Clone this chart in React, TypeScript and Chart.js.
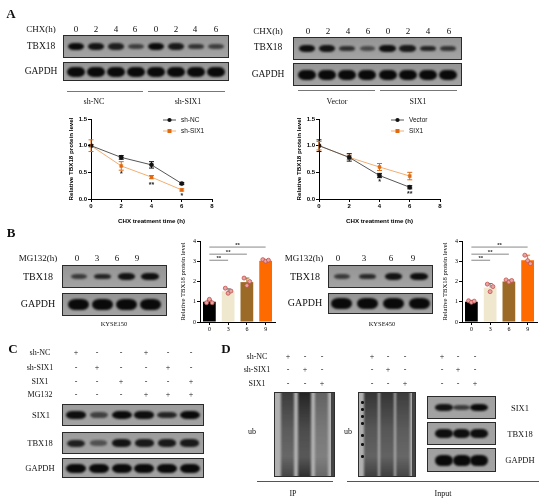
import React, { useEffect, useRef } from "react";
import { Chart, registerables } from "chart.js";
Chart.register(...registerables);

const SANS = '"Liberation Sans", Arial, sans-serif';
const SERIF = '"Liberation Serif", "Times New Roman", serif';

// ---------- data: line charts (panel A) ----------
const chxTimes = [0, 2, 4, 6];
const shNC = [1.0, 0.78, 0.64, 0.29];
const shNCErr = [0.02, 0.035, 0.06, 0.02];
const shSIX1 = [1.0, 0.62, 0.41, 0.17];
const shSIX1Err = [0.11, 0.08, 0.03, 0.02];
const vectorVals = [1.0, 0.78, 0.44, 0.22];
const vectorErr = [0.11, 0.07, 0.04, 0.03];
const six1Vals = [1.0, 0.78, 0.6, 0.43];
const six1Err = [0.08, 0.04, 0.065, 0.07];
const starsLeft: [number, number, string][] = [[2, 0.47, "*"], [4, 0.27, "**"], [6, 0.05, "*"]];
const starsRight: [number, number, string][] = [[4, 0.31, "*"], [6, 0.09, "**"]];

// ---------- data: bar charts (panel B) ----------
const mgHours = ["0", "3", "6", "9"];
const kyse150Mean = [1.0, 1.52, 1.97, 3.02];
const kyse150Err = [0.08, 0.12, 0.2, 0.05];
const kyse150Dots = [[0.95, 1.12, 0.95], [1.67, 1.42, 1.53], [2.17, 1.8, 2.0], [3.08, 3.0, 3.05]];
const kyse450Mean = [1.0, 1.7, 2.0, 3.05];
const kyse450Err = [0.05, 0.2, 0.07, 0.25];
const kyse450Dots = [[1.05, 0.97, 1.03], [1.87, 1.5, 1.75], [2.08, 1.97, 2.05], [3.3, 3.03, 2.88]];
const sigPairs: [number, number, number][] = [[0, 1, 3.05], [0, 2, 3.35], [0, 3, 3.7]];
const barColors = ["#000000", "#EFE8CE", "#9C6A27", "#FF6A00"];

// ---------- data: blots ----------
const chxLanes = ["0", "2", "4", "6", "0", "2", "4", "6"];
const aLeftTBX18 = [0.95, 0.85, 0.75, 0.45, 0.95, 0.8, 0.55, 0.45];
const aRightTBX18 = [0.9, 0.85, 0.6, 0.35, 0.9, 0.8, 0.7, 0.55];
const gapdh8 = [1, 1, 1, 1, 1, 1, 1, 1];
const bLeftTBX18 = [0.5, 0.7, 0.85, 0.9];
const bRightTBX18 = [0.5, 0.65, 0.85, 0.9];
const gapdh4 = [1, 1, 1, 1];
const cRows = ["sh-NC", "sh-SIX1", "SIX1", "MG132"];
const cSigns = [
  ["+", "-", "-", "+", "-", "-"],
  ["-", "+", "-", "-", "+", "-"],
  ["-", "-", "+", "-", "-", "+"],
  ["-", "-", "-", "+", "+", "+"],
];
const cSIX1 = [0.9, 0.45, 0.95, 0.9, 0.7, 1];
const cTBX18 = [0.75, 0.3, 0.85, 0.8, 0.8, 0.8];
const gapdh6 = [1, 1, 1, 1, 1, 1];
const dRows = ["sh-NC", "sh-SIX1", "SIX1"];
const dSigns = [["+", "-", "-"], ["-", "+", "-"], ["-", "-", "+"]];
const dIpUb = [0.75, 0.9, 0.5];
const dInputUb = [0.8, 0.8, 0.75];
const dSIX1 = [0.85, 0.5, 1];
const dTBX18 = [0.9, 0.9, 0.9];
const gapdh3 = [1, 1, 1];

// ---------- chart helpers ----------
type Series = { label: string; vals: number[]; err: number[]; color: string; line: string; style: string };

function lineConfig(series: Series[], stars: [number, number, string][]) {
  const errPlugin = {
    id: "errBars",
    beforeDatasetsDraw(chart: any) {
      const { ctx } = chart;
      const xs = chart.scales.x, ys = chart.scales.y;
      ctx.save();
      ctx.lineWidth = 1;
      series.forEach((s) => {
        ctx.strokeStyle = s.color;
        chxTimes.forEach((t, i) => {
          const px = xs.getPixelForValue(t);
          const top = ys.getPixelForValue(s.vals[i] + s.err[i]);
          const bot = ys.getPixelForValue(s.vals[i] - s.err[i]);
          ctx.beginPath();
          ctx.moveTo(px, top); ctx.lineTo(px, bot);
          ctx.moveTo(px - 2.5, top); ctx.lineTo(px + 2.5, top);
          ctx.moveTo(px - 2.5, bot); ctx.lineTo(px + 2.5, bot);
          ctx.stroke();
        });
      });
      ctx.restore();
    },
  };
  const starPlugin = {
    id: "stars",
    afterDatasetsDraw(chart: any) {
      const { ctx } = chart;
      const xs = chart.scales.x, ys = chart.scales.y;
      ctx.save();
      ctx.fillStyle = "#222";
      ctx.font = `bold 7px ${SANS}`;
      ctx.textAlign = "center";
      ctx.textBaseline = "middle";
      stars.forEach(([x, y, t]) => ctx.fillText(t, xs.getPixelForValue(x), ys.getPixelForValue(y)));
      ctx.restore();
    },
  };
  const legendPlugin = {
    id: "miniLegend",
    afterDraw(chart: any) {
      const { ctx, chartArea } = chart;
      ctx.save();
      series.forEach((s, i) => {
        const x0 = chartArea.left + 72;
        const y = chartArea.top + 1 + i * 11;
        ctx.strokeStyle = s.line;
        ctx.lineWidth = 1;
        ctx.beginPath(); ctx.moveTo(x0, y); ctx.lineTo(x0 + 13, y); ctx.stroke();
        ctx.fillStyle = s.color;
        if (s.style === "rect") ctx.fillRect(x0 + 6.5 - 2, y - 2, 4, 4);
        else { ctx.beginPath(); ctx.arc(x0 + 6.5, y, 2.1, 0, Math.PI * 2); ctx.fill(); }
        ctx.fillStyle = "#111";
        ctx.font = `6.5px ${SANS}`;
        ctx.textAlign = "left";
        ctx.textBaseline = "middle";
        ctx.fillText(s.label, x0 + 18, y);
      });
      ctx.restore();
    },
  };
  const tickFont = { family: SANS, size: 6, weight: "bold" as const };
  return {
    type: "line",
    data: {
      datasets: series.map((s) => ({
        label: s.label,
        data: chxTimes.map((t, i) => ({ x: t, y: s.vals[i] })),
        borderColor: s.line,
        borderWidth: 1,
        pointStyle: s.style,
        pointRadius: 2.1,
        pointBackgroundColor: s.color,
        pointBorderColor: s.color,
        pointBorderWidth: 0.5,
        tension: 0,
        fill: false,
      })),
    },
    options: {
      animation: false,
      responsive: false,
      events: [],
      layout: { padding: { left: 13, top: 9, right: 33, bottom: 0 } },
      plugins: { legend: { display: false }, tooltip: { enabled: false } },
      scales: {
        x: {
          type: "linear", min: 0, max: 8,
          ticks: { stepSize: 2, font: tickFont, color: "#000", padding: 1 },
          grid: { drawOnChartArea: false, tickLength: 3, color: "#000" },
          border: { color: "#000", width: 1 },
          title: { display: true, text: "CHX treatment time (h)", font: { family: SANS, size: 6.2, weight: "bold" }, color: "#000", padding: 0 },
          afterFit: (s: any) => { s.height = 26; },
        },
        y: {
          type: "linear", min: 0, max: 1.5,
          ticks: { stepSize: 0.5, font: tickFont, color: "#000", padding: 1, callback: (v: any) => Number(v).toFixed(1) },
          grid: { drawOnChartArea: false, tickLength: 3, color: "#000" },
          border: { color: "#000", width: 1 },
          title: { display: true, text: "Relative TBX18 protein level", font: { family: SANS, size: 6.2, weight: "bold" }, color: "#000", padding: 0 },
          afterFit: (s: any) => { s.width = 23; },
        },
      },
    },
    plugins: [errPlugin, starPlugin, legendPlugin],
  };
}

function barConfig(means: number[], errs: number[], dots: number[][]) {
  const jitter = [-0.22, 0, 0.22];
  const extras = {
    id: "barExtras",
    afterDatasetsDraw(chart: any) {
      const { ctx } = chart;
      const xs = chart.scales.x, ys = chart.scales.y;
      const meta = chart.getDatasetMeta(0);
      ctx.save();
      means.forEach((m, i) => {
        const px = xs.getPixelForValue(i);
        const top = ys.getPixelForValue(m + errs[i]);
        const base = ys.getPixelForValue(m);
        ctx.strokeStyle = i === 1 ? "#777" : barColors[i];
        ctx.lineWidth = 1;
        ctx.beginPath();
        ctx.moveTo(px, base); ctx.lineTo(px, top);
        ctx.moveTo(px - 2.5, top); ctx.lineTo(px + 2.5, top);
        ctx.stroke();
      });
      dots.forEach((vals, i) => {
        const bw = meta.data[i].width;
        vals.forEach((v, j) => {
          const px = xs.getPixelForValue(i) + jitter[j] * bw;
          const py = ys.getPixelForValue(v);
          ctx.beginPath();
          ctx.arc(px, py, 2, 0, Math.PI * 2);
          ctx.fillStyle = "#E9A3A3";
          ctx.fill();
          ctx.strokeStyle = "#C0504D";
          ctx.lineWidth = 0.8;
          ctx.stroke();
        });
      });
      sigPairs.forEach(([a, b, y]) => {
        const x1 = xs.getPixelForValue(a), x2 = xs.getPixelForValue(b);
        const py = ys.getPixelForValue(y);
        ctx.strokeStyle = "#888";
        ctx.lineWidth = 1;
        ctx.beginPath(); ctx.moveTo(x1, py); ctx.lineTo(x2, py); ctx.stroke();
        ctx.fillStyle = "#333";
        ctx.font = `bold 6px ${SANS}`;
        ctx.textAlign = "center";
        ctx.textBaseline = "bottom";
        ctx.fillText("**", (x1 + x2) / 2, py + 1);
      });
      ctx.restore();
    },
  };
  const tickFont = { family: SERIF, size: 6 };
  return {
    type: "bar",
    data: {
      labels: mgHours,
      datasets: [{ data: means, backgroundColor: barColors, borderWidth: 0, barPercentage: 0.68, categoryPercentage: 1 }],
    },
    options: {
      animation: false,
      responsive: false,
      events: [],
      layout: { padding: { left: 9, top: 9, right: 7, bottom: 0 } },
      plugins: { legend: { display: false }, tooltip: { enabled: false } },
      scales: {
        x: {
          type: "category", offset: true,
          ticks: { font: tickFont, color: "#000", padding: 1 },
          grid: { drawOnChartArea: false, tickLength: 3, color: "#000", offset: false },
          border: { color: "#000", width: 1 },
          afterFit: (s: any) => { s.height = 13; },
        },
        y: {
          type: "linear", min: 0, max: 4,
          ticks: { stepSize: 1, font: tickFont, color: "#000", padding: 1 },
          grid: { drawOnChartArea: false, tickLength: 3, color: "#000" },
          border: { color: "#000", width: 1 },
          title: { display: true, text: "Relative TBX18 protein level", font: { family: SERIF, size: 6.6 }, color: "#000", padding: 0 },
          afterFit: (s: any) => { s.width = 21; },
        },
      },
    },
    plugins: [extras],
  };
}

function ChartBox({ left, top, width, height, make }: { left: number; top: number; width: number; height: number; make: () => any }) {
  const ref = useRef<HTMLCanvasElement>(null);
  useEffect(() => {
    const chart = new Chart(ref.current as HTMLCanvasElement, make());
    return () => chart.destroy();
  }, []);
  return <canvas ref={ref} width={width} height={height} style={{ position: "absolute", left, top, width, height }} />;
}

// ---------- HTML helpers ----------
function T({ x, y, s = 8, a = "c", b = false, f = SERIF, children }: any) {
  const tx = a === "c" ? "-50%" : a === "r" ? "-100%" : "0";
  return (
    <div style={{ position: "absolute", left: x, top: y, transform: `translate(${tx}, -50%)`, willChange: "transform", fontSize: s, fontFamily: f, fontWeight: b ? "bold" : "normal", whiteSpace: "nowrap", lineHeight: 1, color: "#111" }}>
      {children}
    </div>
  );
}

function HLine({ x1, x2, y, c = "#777" }: any) {
  return <div style={{ position: "absolute", left: x1, top: y, width: x2 - x1, height: 1, background: c }} />;
}

function Blot({ x, y, w, h, vals, pad, bw, bh, bg = "#959595" }: any) {
  const n = vals.length;
  const step = (w - 2 * pad) / n;
  return (
    <div style={{ position: "absolute", left: x, top: y, width: w, height: h, background: `linear-gradient(to bottom, ${bg}, #a3a3a3)`, border: "1px solid #2a2a2a", boxSizing: "border-box", overflow: "hidden" }}>
      {vals.map((v: number, i: number) => {
        const cx = pad + (i + 0.5) * step - 1;
        const hh = bh * (0.5 + 0.5 * v);
        const ww = bw * (0.85 + 0.15 * v);
        const a = Math.min(1, 0.3 + 0.75 * v);
        return (
          <div key={i} style={{ position: "absolute", left: cx - ww / 2, top: (h - 2) / 2 - hh / 2, width: ww, height: hh, borderRadius: `${ww * 0.35}px / ${hh / 2}px`, background: `rgba(10,10,10,${a})`, filter: "blur(0.8px)" }} />
        );
      })}
    </div>
  );
}

function UbBlot({ x, y, w, h, vals, pad, lw, ladder = false }: any) {
  const n = vals.length;
  const step = (w - 2 * pad) / n;
  const ladderY = [8, 15, 22, 29, 41, 50, 62];
  return (
    <div style={{ position: "absolute", left: x, top: y, width: w, height: h, background: "#b0b0b0", border: "1px solid #2e2e2e", boxSizing: "border-box", overflow: "hidden" }}>
      <div style={{ position: "absolute", left: w - 5, top: 0, width: 3, height: h, background: "#444" }} />
      {vals.map((v: number, i: number) => {
        const cx = pad + (i + 0.5) * step - 1;
        return (
          <div key={i} style={{ position: "absolute", left: cx - lw / 2, top: -2, width: lw, height: h + 2, filter: "blur(1px)", background: `linear-gradient(to bottom, rgba(20,20,20,${v}) 0%, rgba(45,45,45,${v * 0.85}) 45%, rgba(55,55,55,${v * 0.8}) 75%, rgba(30,30,30,${v}) 100%)` }} />
        );
      })}
      {ladder && ladderY.map((ly, i) => (
        <div key={i} style={{ position: "absolute", left: 2, top: ly, width: 2.5, height: 2.5, borderRadius: "50%", background: "#111" }} />
      ))}
    </div>
  );
}

export default function App() {
  const leftSeries: Series[] = [
    { label: "sh-NC", vals: shNC, err: shNCErr, color: "#111111", line: "#555555", style: "circle" },
    { label: "sh-SIX1", vals: shSIX1, err: shSIX1Err, color: "#E06A10", line: "#F2AE70", style: "rect" },
  ];
  const rightSeries: Series[] = [
    { label: "Vector", vals: vectorVals, err: vectorErr, color: "#111111", line: "#555555", style: "circle" },
    { label: "SIX1", vals: six1Vals, err: six1Err, color: "#E06A10", line: "#F2AE70", style: "rect" },
  ];
  const aLeftX = [76, 96, 116, 135, 156, 176, 195, 216];
  const aRightX = [308, 328, 348, 368, 388, 408, 428, 449];
  const cX = [76, 97, 121, 146, 168, 191];
  const dCols = [[288, 305, 322], [372, 388, 405], [442, 458, 475]];
  const cRowY = [353, 368, 382, 395];
  const dRowY = [357, 370, 384];

  return (
    <div style={{ position: "absolute", left: 0, top: 0, width: 550, height: 503, background: "#fff", overflow: "hidden" }}>
      {/* ---------- Panel A ---------- */}
      <T x={11} y={13} s={13} b>A</T>
      <T x={41} y={29} s={9}>CHX(h)</T>
      {chxLanes.map((l, i) => <T key={i} x={aLeftX[i]} y={29} s={9}>{l}</T>)}
      <T x={41} y={47} s={9.5}>TBX18</T>
      <T x={41} y={72} s={9.5}>GAPDH</T>
      <Blot x={63} y={35} w={166} h={23} vals={aLeftTBX18} pad={3} bw={17} bh={7} />
      <Blot x={63} y={62} w={166} h={19} vals={gapdh8} pad={3} bw={18} bh={10} />
      <HLine x1={67} x2={143} y={91} />
      <HLine x1={148} x2={225} y={91} />
      <T x={94} y={102} s={8}>sh-NC</T>
      <T x={188} y={102} s={8}>sh-SIX1</T>

      <T x={268} y={31} s={9}>CHX(h)</T>
      {chxLanes.map((l, i) => <T key={i} x={aRightX[i]} y={31} s={9}>{l}</T>)}
      <T x={268} y={48} s={9.5}>TBX18</T>
      <T x={268} y={75} s={9.5}>GAPDH</T>
      <Blot x={293} y={37} w={169} h={23} vals={aRightTBX18} pad={4} bw={17} bh={7} />
      <Blot x={293} y={63} w={169} h={23} vals={gapdh8} pad={4} bw={18} bh={10} />
      <HLine x1={298} x2={375} y={90} />
      <HLine x1={380} x2={457} y={90} />
      <T x={337} y={102} s={8}>Vector</T>
      <T x={418} y={102} s={8}>SIX1</T>

      <ChartBox left={55} top={110} width={190} height={115} make={() => lineConfig(leftSeries, starsLeft)} />
      <ChartBox left={283} top={110} width={190} height={115} make={() => lineConfig(rightSeries, starsRight)} />

      {/* ---------- Panel B ---------- */}
      <T x={11} y={232} s={13} b>B</T>
      <T x={38} y={258} s={9}>MG132(h)</T>
      {mgHours.map((l, i) => <T key={i} x={[77, 97, 117, 137][i]} y={258} s={9}>{l}</T>)}
      <T x={38} y={277} s={10}>TBX18</T>
      <T x={38} y={304} s={10}>GAPDH</T>
      <Blot x={62} y={265} w={105} h={23} vals={bLeftTBX18} pad={5} bw={18} bh={7} />
      <Blot x={62} y={293} w={105} h={23} vals={gapdh4} pad={5} bw={21} bh={11} />
      <T x={114} y={324} s={6.5}>KYSE150</T>
      <ChartBox left={170} top={232} width={112} height={103} make={() => barConfig(kyse150Mean, kyse150Err, kyse150Dots)} />

      <T x={304} y={258} s={9}>MG132(h)</T>
      {mgHours.map((l, i) => <T key={i} x={[338, 364, 391, 413][i]} y={258} s={9}>{l}</T>)}
      <T x={305} y={277} s={10}>TBX18</T>
      <T x={305} y={303} s={10}>GAPDH</T>
      <Blot x={328} y={265} w={105} h={23} vals={bRightTBX18} pad={1} bw={18} bh={7} />
      <Blot x={328} y={293} w={105} h={21} vals={gapdh4} pad={1} bw={21} bh={11} />
      <T x={382} y={324} s={6.5}>KYSE450</T>
      <ChartBox left={432} top={232} width={112} height={103} make={() => barConfig(kyse450Mean, kyse450Err, kyse450Dots)} />

      {/* ---------- Panel C ---------- */}
      <T x={13} y={348} s={13} b>C</T>
      {cRows.map((r, ri) => (
        <React.Fragment key={ri}>
          <T x={40} y={cRowY[ri]} s={8}>{r}</T>
          {cSigns[ri].map((sg, ci) => <T key={ci} x={cX[ci]} y={cRowY[ri]} s={8}>{sg}</T>)}
        </React.Fragment>
      ))}
      <T x={41} y={415} s={8.5}>SIX1</T>
      <T x={40} y={443} s={8.5}>TBX18</T>
      <T x={40} y={468} s={8.5}>GAPDH</T>
      <Blot x={62} y={404} w={142} h={22} vals={cSIX1} pad={3} bw={20} bh={8} bg="#9c9c9c" />
      <Blot x={62} y={432} w={142} h={22} vals={cTBX18} pad={3} bw={19} bh={8} bg="#9c9c9c" />
      <Blot x={62} y={458} w={142} h={20} vals={gapdh6} pad={3} bw={20} bh={9} bg="#9c9c9c" />

      {/* ---------- Panel D ---------- */}
      <T x={226} y={348} s={13} b>D</T>
      {dRows.map((r, ri) => (
        <React.Fragment key={ri}>
          <T x={257} y={dRowY[ri]} s={8}>{r}</T>
          {dCols.map((cols, gi) => cols.map((cx, ci) => <T key={gi + "-" + ci} x={cx} y={dRowY[ri]} s={8}>{dSigns[ri][ci]}</T>))}
        </React.Fragment>
      ))}
      <T x={252} y={432} s={8}>ub</T>
      <UbBlot x={274} y={392} w={61} h={85} vals={dIpUb} pad={5} lw={13} />
      <T x={348} y={432} s={8}>ub</T>
      <UbBlot x={358} y={392} w={58} h={85} vals={dInputUb} pad={5} lw={14} ladder />
      <Blot x={427} y={396} w={69} h={23} vals={dSIX1} pad={8} bw={18} bh={7} bg="#a0a0a0" />
      <Blot x={427} y={422} w={69} h={23} vals={dTBX18} pad={8} bw={18} bh={9} bg="#a0a0a0" />
      <Blot x={427} y={448} w={69} h={24} vals={gapdh3} pad={8} bw={18} bh={11} bg="#a0a0a0" />
      <T x={520} y={408} s={8.5}>SIX1</T>
      <T x={520} y={434} s={8.5}>TBX18</T>
      <T x={520} y={460} s={8.5}>GAPDH</T>
      <HLine x1={257} x2={333} y={481} c="#555" />
      <HLine x1={347} x2={539} y={481} c="#555" />
      <T x={293} y={494} s={8}>IP</T>
      <T x={443} y={494} s={8}>Input</T>
    </div>
  );
}
